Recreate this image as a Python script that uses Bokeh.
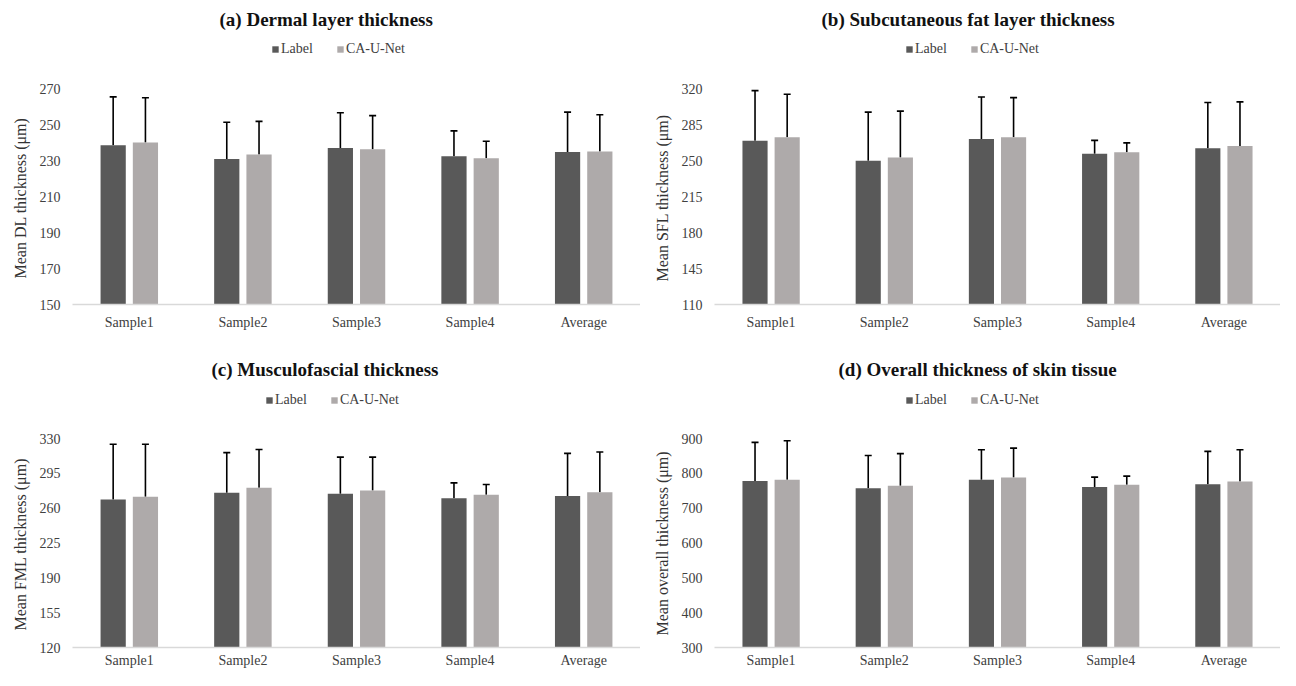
from bokeh.plotting import figure
from bokeh.layouts import gridplot
from bokeh.models import (ColumnDataSource, FactorRange, Range1d, Whisker, TeeHead,
                          Legend, LegendItem, FixedTicker, Title)
from bokeh.transform import dodge
from bokeh.embed import file_html
from bokeh.resources import INLINE

categories = ["Sample1", "Sample2", "Sample3", "Sample4", "Average"]
series_names = ["Label", "CA-U-Net"]

# (a) Dermal layer
dl_label = [238.8, 231.1, 237.2, 232.7, 235.0]
dl_label_sd = [27.0, 20.5, 19.7, 14.1, 22.3]
dl_net = [240.3, 233.7, 236.6, 231.5, 235.3]
dl_net_sd = [25.0, 18.4, 18.7, 9.5, 20.5]
dl_ticks = [150, 170, 190, 210, 230, 250, 270]

# (b) Subcutaneous fat layer
sfl_label = [269.9, 250.2, 271.5, 257.0, 262.5]
sfl_label_sd = [48.8, 47.5, 41.0, 13.2, 44.6]
sfl_net = [273.1, 253.4, 273.1, 258.6, 264.7]
sfl_net_sd = [42.0, 45.3, 38.8, 9.1, 43.0]
sfl_ticks = [110, 145, 180, 215, 250, 285, 320]

# (c) Musculofascial layer
fml_label = [268.6, 275.4, 274.4, 269.9, 272.2]
fml_label_sd = [55.6, 40.4, 36.9, 15.5, 42.9]
fml_net = [271.5, 280.6, 277.7, 273.5, 276.0]
fml_net_sd = [52.7, 38.4, 33.6, 10.3, 40.4]
fml_ticks = [120, 155, 190, 225, 260, 295, 330]

# (d) Overall skin tissue
all_label = [778.2, 756.9, 781.8, 760.6, 768.9]
all_label_sd = [110.7, 94.2, 85.9, 28.6, 94.2]
all_net = [781.8, 764.3, 788.3, 767.1, 776.3]
all_net_sd = [111.7, 92.3, 84.0, 24.9, 91.4]
all_ticks = [300, 400, 500, 600, 700, 800, 900]

DARK = "#595959"
LIGHT = "#AEAAAA"
FONT = "Liberation Serif"


def make_panel(title, ylabel, lab, lab_sd, net, net_sd, ticks, width, height,
               left, top, bottom, data_top, title_off, legend_x, legend_bottom,
               ylabel_off, xstand):
    src = ColumnDataSource(dict(
        cat=categories,
        lab=lab, lab_up=[v + s for v, s in zip(lab, lab_sd)],
        net=net, net_up=[v + s for v, s in zip(net, net_sd)],
    ))
    data_h = height - bottom - data_top
    span = ticks[-1] - ticks[0]
    y_end = ticks[-1] + (data_top - top) / data_h * span
    p = figure(width=width, height=height, x_range=FactorRange(*categories),
               y_range=Range1d(ticks[0], y_end), output_backend="svg",
               toolbar_location=None, min_border_left=left, min_border_right=0,
               min_border_top=top, min_border_bottom=bottom)
    p.title.text = title
    p.title.text_font = FONT
    p.title.text_font_size = "19px"
    p.title.text_font_style = "bold"
    p.title.text_color = "#111111"
    p.title.align = "left"
    p.title.offset = title_off
    p.title.standoff = 13

    off = 0.142
    bw = 0.222
    r1 = p.vbar(x=dodge("cat", -off, range=p.x_range), top="lab", bottom=ticks[0],
                width=bw, source=src, fill_color=DARK, line_color=None)
    r2 = p.vbar(x=dodge("cat", off, range=p.x_range), top="net", bottom=ticks[0],
                width=bw, source=src, fill_color=LIGHT, line_color=None)
    for key, o in (("lab", -off), ("net", off)):
        w = Whisker(source=src, base=dodge("cat", o, range=p.x_range),
                    lower=key, upper=key + "_up", line_color="black", line_width=1.6,
                    lower_head=None,
                    upper_head=TeeHead(size=7, line_color="black", line_width=1.6))
        p.add_layout(w)

    leg = Legend(items=[LegendItem(label=series_names[0], renderers=[r1]),
                        LegendItem(label=series_names[1], renderers=[r2])],
                 orientation="horizontal",
                 location=(legend_x, height - bottom - legend_bottom),
                 glyph_width=8, glyph_height=8, label_standoff=2, spacing=23,
                 padding=0, margin=0, border_line_alpha=0, background_fill_alpha=0,
                 label_text_font=FONT, label_text_font_size="14px",
                 label_text_color="#404040", label_height=16)
    p.add_layout(leg)

    yt = Title(text=ylabel, align="left", offset=ylabel_off, standoff=16,
               text_font=FONT, text_font_size="16px", text_font_style="normal",
               text_color="#333333")
    p.add_layout(yt, "left")

    p.xgrid.grid_line_color = None
    p.ygrid.grid_line_color = None
    p.outline_line_color = None

    p.yaxis.ticker = FixedTicker(ticks=ticks)
    p.yaxis.axis_line_color = None
    p.yaxis.major_tick_line_color = None
    p.yaxis.minor_tick_line_color = None
    p.yaxis.major_tick_out = 0
    p.yaxis.major_tick_in = 0
    p.yaxis.minor_tick_out = 0
    p.yaxis.major_label_standoff = 12

    p.xaxis.axis_line_color = "#D9D9D9"
    p.xaxis.axis_line_width = 1.5
    p.xaxis.major_tick_line_color = None
    p.xaxis.minor_tick_line_color = None
    p.xaxis.major_tick_out = 0
    p.xaxis.major_tick_in = 0
    p.xaxis.minor_tick_out = 0
    p.xaxis.major_label_standoff = xstand
    p.x_range.range_padding = 0
    p.x_range.group_padding = 0

    for ax in (p.xaxis, p.yaxis):
        ax.major_label_text_font = FONT
        ax.major_label_text_font_size = "14px"
        ax.major_label_text_color = "#404040"
    return p


# row 1: height 343, top 35, bottom 39, data region starts 88 px below the top
pa = make_panel("(a) Dermal layer thickness", "Mean DL thickness (\u03bcm)",
                dl_label, dl_label_sd, dl_net, dl_net_sd, dl_ticks,
                640, 343, 72, 35, 39, 88, 147, 199, 57, 26, 10)
pb = make_panel("(b) Subcutaneous fat layer thickness", "Mean SFL thickness (\u03bcm)",
                sfl_label, sfl_label_sd, sfl_net, sfl_net_sd, sfl_ticks,
                640, 343, 74, 35, 39, 88, 107, 191, 57, 23, 10)
# row 2: height 327, top 43, bottom 23, data region starts 95 px below the top
pc = make_panel("(c) Musculofascial thickness", "Mean FML thickness (\u03bcm)",
                fml_label, fml_label_sd, fml_net, fml_net_sd, fml_ticks,
                640, 327, 72, 43, 23, 95, 139, 193, 65, 17, 5)
pd = make_panel("(d) Overall thickness of skin tissue", "Mean overall thickness (\u03bcm)",
                all_label, all_label_sd, all_net, all_net_sd, all_ticks,
                640, 327, 74, 43, 23, 95, 124, 191, 65, 12, 5)

grid = gridplot([[pa, pb], [pc, pd]], toolbar_location=None)

open("out.html", "w").write(file_html(grid, INLINE))
